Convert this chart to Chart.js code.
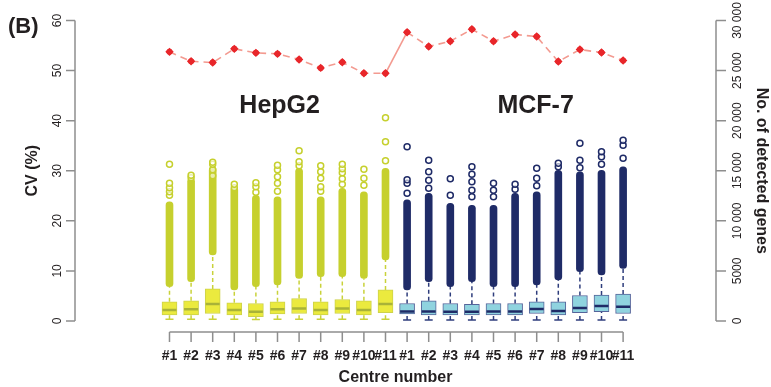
<!DOCTYPE html>
<html>
<head>
<meta charset="utf-8">
<script src="https://cdn.jsdelivr.net/npm/chart.js@4.4.1/dist/chart.umd.min.js"></script>
<style>
  html, body { margin: 0; padding: 0; background: #ffffff; }
  #wrap { width: 771px; height: 387px; }
</style>
</head>
<body>
<div id="wrap"><canvas id="c" width="771" height="387"></canvas></div>
<script>
// Centre labels (same 11 centres for each cell line)
const centreLabels = ['#1', '#2', '#3', '#4', '#5', '#6', '#7', '#8', '#9', '#10', '#11'];
const cellLines = ['HepG2', 'MCF-7'];

// CV (%) box statistics, HepG2
const hepWhiskLo = [0.35, 0.35, 0.35, 0.35, 0.3, 0.35, 0.35, 0.35, 0.35, 0.35, 0.35];
const hepQ1      = [1.2, 1.2, 1.5, 1.2, 0.85, 1.4, 1.5, 1.2, 1.5, 1.2, 1.65];
const hepMedian  = [2.2, 2.35, 3.4, 2.2, 1.85, 2.35, 2.5, 2.2, 2.5, 2.2, 3.4];
const hepQ3      = [3.85, 4.05, 6.4, 3.65, 3.5, 3.85, 4.5, 3.85, 4.3, 4.05, 6.2];
const hepWhiskHi = [6.85, 7.85, 13.2, 6.2, 6.85, 7.2, 8.5, 8.85, 8.85, 8.5, 12.2];
const hepDenseTop = [23.8, 28.5, 30.8, 26.8, 25.1, 24.8, 30.5, 24.8, 26.5, 25.8, 30.5];
const hepOutliers = [
  [25.1, 25.8, 26.6, 27.5, 31.3],
  [28.6, 29.1],
  [29.0, 30.2, 31.3, 31.7],
  [26.6, 27.3],
  [25.7, 26.8, 27.6],
  [25.9, 27.5, 28.8, 30.2, 31.1],
  [31.0, 31.8, 34.0],
  [25.9, 26.8, 28.5, 29.8, 31.0],
  [27.3, 28.4, 29.6, 30.4, 31.3],
  [27.1, 28.5, 30.3],
  [32.0, 35.8, 40.6]
];

// CV (%) box statistics, MCF-7
const mcfWhiskLo = [0.2, 0.2, 0.2, 0.2, 0.2, 0.2, 0.2, 0.2, 0.2, 0.2, 0.2];
const mcfQ1      = [1.4, 1.2, 1.2, 1.2, 1.2, 1.2, 1.5, 1.2, 1.65, 1.85, 1.5];
const mcfMedian  = [1.9, 1.9, 1.85, 1.85, 1.9, 1.9, 2.4, 2.0, 2.6, 3.0, 2.85];
const mcfQ3      = [3.5, 4.05, 3.5, 3.35, 3.5, 3.5, 3.85, 3.85, 5.1, 5.2, 5.4];
const mcfWhiskHi = [6.2, 7.85, 6.85, 7.85, 6.85, 6.85, 7.2, 8.2, 9.85, 9.2, 10.5];
const mcfDenseTop = [24.2, 25.5, 23.5, 23.1, 23.1, 25.5, 25.8, 30.1, 29.8, 30.1, 30.8];
const mcfOutliers = [
  [25.5, 27.5, 28.2, 34.8],
  [26.5, 28.1, 29.8, 32.1],
  [25.1, 28.4],
  [24.8, 26.1, 27.8, 29.3, 30.8],
  [24.8, 26.1, 27.5],
  [26.3, 27.3],
  [27.0, 28.5, 30.5],
  [30.8, 31.5],
  [30.6, 32.1, 35.5],
  [31.3, 32.8, 33.8],
  [32.5, 35.1, 36.1]
];

// Number of detected genes per centre
const hepGenes = [26870, 25930, 25800, 27170, 26770, 26670, 26100, 25270, 25830, 24730, 24730];
const mcfGenes = [28830, 27400, 27930, 29130, 27930, 28600, 28400, 25900, 27100, 26800, 26000];

// Axis ticks
const cvTicks = [0, 10, 20, 30, 40, 50, 60];
const geneTicks = [0, 5000, 10000, 15000, 20000, 25000, 30000];

// ---- combined per-position arrays (22 positions) ----
const xLabels = centreLabels.concat(centreLabels);
const n = xLabels.length;
const nHep = centreLabels.length;
const whiskLo = hepWhiskLo.concat(mcfWhiskLo);
const q1 = hepQ1.concat(mcfQ1);
const med = hepMedian.concat(mcfMedian);
const q3 = hepQ3.concat(mcfQ3);
const whiskHi = hepWhiskHi.concat(mcfWhiskHi);
const denseTop = hepDenseTop.concat(mcfDenseTop);
const outliers = hepOutliers.concat(mcfOutliers);
const genes = hepGenes.concat(mcfGenes);

const HEP = { box: '#ebea3e', boxEdge: '#cdd24a', out: '#c6d02e', med: '#a9b338', whisk: '#c9d23a' };
const MCF = { box: '#8fd3df', boxEdge: '#55649a', out: '#1f2b67', med: '#1f2b67', whisk: '#2e3d7c' };
const pal = i => (i < nHep ? HEP : MCF);

const idx = [...Array(n).keys()];

const boxData = idx.map(i => ({ x: i, y: [q1[i], q3[i]] }));
const denseData = idx.map(i => ({ x: i, y: [whiskHi[i], denseTop[i]] }));
const medData = idx.map(i => ({ x: i, y: med[i] }));
const capData = idx.map(i => ({ x: i, y: whiskLo[i] }));
const whiskData = [];
idx.forEach(i => {
  whiskData.push({ x: i, y: q3[i] }, { x: i, y: whiskHi[i] }, { x: i, y: null });
  whiskData.push({ x: i, y: whiskLo[i] }, { x: i, y: q1[i] }, { x: i, y: null });
});
const outData = [];
const outColors = [];
idx.forEach(i => outliers[i].forEach(v => { outData.push({ x: i, y: v }); outColors.push(pal(i).out); }));
const geneData = idx.map(i => ({ x: i, y: genes[i] }));

const FONT = '"Liberation Sans", Arial, Helvetica, sans-serif';
const INK = '#231f20';
const AXIS = '#8e8e8e';

function fmtGenes(v) {
  if (v < 10000) return String(v);
  const s = String(v);
  return s.slice(0, s.length - 3) + ' ' + s.slice(-3);
}

const axesPlugin = {
  id: 'rAxes',
  afterDraw(chart) {
    const ctx = chart.ctx;
    const { x, y, y2 } = chart.scales;
    const area = chart.chartArea;
    ctx.save();
    ctx.strokeStyle = AXIS;
    ctx.lineWidth = 1.5;
    ctx.fillStyle = INK;

    // left axis
    const lx = area.left;
    ctx.beginPath();
    ctx.moveTo(lx, y.getPixelForValue(cvTicks[0]));
    ctx.lineTo(lx, y.getPixelForValue(cvTicks[cvTicks.length - 1]));
    cvTicks.forEach(v => {
      const py = y.getPixelForValue(v);
      ctx.moveTo(lx - 9, py); ctx.lineTo(lx, py);
    });
    ctx.stroke();
    ctx.font = '12px ' + FONT;
    ctx.textAlign = 'center';
    ctx.textBaseline = 'middle';
    cvTicks.forEach(v => {
      const py = y.getPixelForValue(v);
      ctx.save(); ctx.translate(lx - 17, py); ctx.rotate(-Math.PI / 2);
      ctx.fillText(String(v), 0, 0); ctx.restore();
    });

    // right axis
    const rx = area.right;
    ctx.beginPath();
    ctx.moveTo(rx, y2.getPixelForValue(geneTicks[0]));
    ctx.lineTo(rx, y2.getPixelForValue(geneTicks[geneTicks.length - 1]));
    geneTicks.forEach(v => {
      const py = y2.getPixelForValue(v);
      ctx.moveTo(rx, py); ctx.lineTo(rx + 10, py);
    });
    ctx.stroke();
    geneTicks.forEach(v => {
      const py = y2.getPixelForValue(v);
      ctx.save(); ctx.translate(rx + 22, py); ctx.rotate(-Math.PI / 2);
      ctx.fillText(fmtGenes(v), 0, 0); ctx.restore();
    });

    // bottom axis
    const by = area.bottom + 11;
    ctx.beginPath();
    ctx.moveTo(x.getPixelForValue(0), by);
    ctx.lineTo(x.getPixelForValue(n - 1), by);
    idx.forEach(i => {
      const px = x.getPixelForValue(i);
      ctx.moveTo(px, by); ctx.lineTo(px, by + 10);
    });
    ctx.stroke();
    ctx.font = 'bold 14px ' + FONT;
    idx.forEach(i => {
      ctx.fillText(xLabels[i], x.getPixelForValue(i), by + 24);
    });

    // axis titles
    ctx.font = 'bold 16px ' + FONT;
    ctx.fillText('Centre number', (area.left + area.right) / 2, 378);
    const midY = (area.top + area.bottom) / 2;
    ctx.save(); ctx.translate(33, midY); ctx.rotate(-Math.PI / 2);
    ctx.fillText('CV (%)', 0, 0); ctx.restore();
    ctx.save(); ctx.translate(761, midY); ctx.rotate(Math.PI / 2);
    ctx.fillText('No. of detected genes', 0, 0); ctx.restore();

    // cell line labels
    ctx.font = 'bold 25px ' + FONT;
    ctx.textBaseline = 'alphabetic';
    ctx.fillText(cellLines[0], x.getPixelForValue(5.1), 113);
    ctx.fillText(cellLines[1], x.getPixelForValue(16.95), 113);

    // panel letter
    ctx.font = 'bold 22px ' + FONT;
    ctx.textAlign = 'left';
    ctx.fillText('(B)', 8, 33);
    ctx.restore();
  }
};

new Chart(document.getElementById('c'), {
  type: 'bar',
  data: {
    datasets: [
      {
        type: 'line', label: 'whiskers', data: whiskData, order: 6,
        borderWidth: 1.5, borderDash: [4, 3], pointRadius: 0, spanGaps: false,
        segment: { borderColor: c => pal(Math.round(c.p0.parsed.x)).whisk },
        borderColor: HEP.whisk
      },
      {
        label: 'dense outliers', data: denseData, order: 5, grouped: false,
        barThickness: 7, borderRadius: 4, borderSkipped: false,
        backgroundColor: idx.map(i => pal(i).out), borderWidth: 0
      },
      {
        type: 'scatter', label: 'outliers', data: outData, order: 4,
        pointStyle: 'circle', pointRadius: 3, borderWidth: 1.5,
        pointBorderColor: outColors, pointBackgroundColor: 'rgba(255,255,255,0.6)'
      },
      {
        type: 'scatter', label: 'caps', data: capData, order: 4,
        pointStyle: 'line', pointRadius: 4, borderWidth: 1.3,
        pointBorderColor: idx.map(i => pal(i).whisk)
      },
      {
        label: 'boxes', data: boxData, order: 3, grouped: false,
        barThickness: 15, borderSkipped: false, borderWidth: 1,
        backgroundColor: idx.map(i => pal(i).box),
        borderColor: idx.map(i => pal(i).boxEdge)
      },
      {
        type: 'scatter', label: 'medians', data: medData, order: 2,
        pointStyle: 'line', pointRadius: 7, borderWidth: 2.5,
        pointBorderColor: idx.map(i => pal(i).med)
      },
      {
        type: 'line', label: 'genes', data: geneData, yAxisID: 'y2', order: 1,
        borderColor: '#f39a90', borderWidth: 1.6,
        segment: { borderDash: c => (c.p0DataIndex === nHep - 1 ? [] : [7, 5]) },
        pointStyle: 'rectRot', pointRadius: 4.2, pointBorderWidth: 0,
        pointBackgroundColor: '#e8262a', pointBorderColor: '#e8262a'
      },
      {
        type: 'scatter', label: 'gene markers', data: geneData, yAxisID: 'y2', order: 0,
        pointStyle: 'circle', pointRadius: 3, borderWidth: 0,
        pointBackgroundColor: '#e8262a'
      }
    ]
  },
  options: {
    responsive: false,
    animation: false,
    events: [],
    layout: { padding: { left: 75, right: 55, top: 20.5, bottom: 66 } },
    plugins: { legend: { display: false }, tooltip: { enabled: false } },
    scales: {
      x: { type: 'linear', min: -1.407, max: 22.333, display: false },
      y: { type: 'linear', min: 0, max: 60, display: false },
      y2: { type: 'linear', position: 'right', min: 0, max: 30000, display: false }
    }
  },
  plugins: [axesPlugin]
});
</script>
</body>
</html>
